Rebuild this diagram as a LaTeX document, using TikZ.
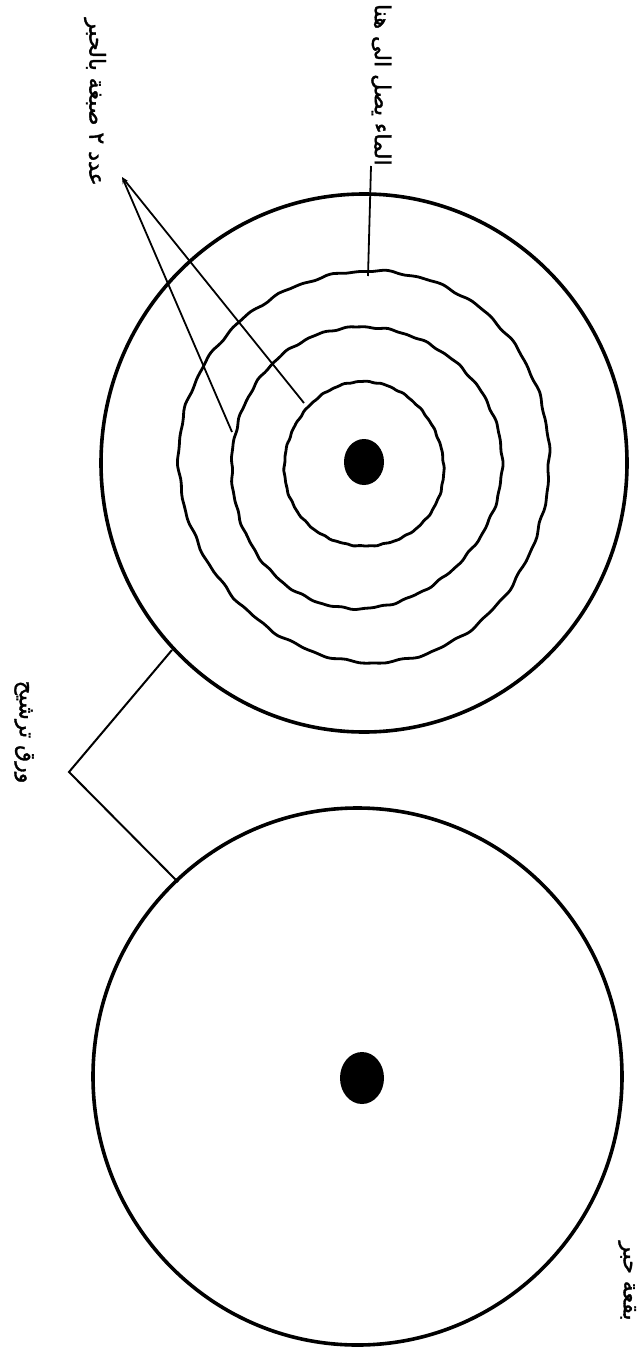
\documentclass[tikz,border=0pt]{standalone}
\usepackage{fontspec}
\usetikzlibrary{arrows.meta}
\newfontfamily\arabicfont[Script=Arabic, FakeBold=1.6]{DejaVu Sans}
\TeXXeTstate=1

\begin{document}
\begin{tikzpicture}[x=0.5pt, y=-0.5pt, >={Stealth[length=3.5pt,width=2.2pt]},
    declare function={wob(\t,\p)=1+0.004*sin(23*\t+\p)+0.003*sin(41*\t+40+\p)+0.015*sin(3*\t+\p)+0.01*sin(2*\t+60+\p);},
    paper/.style={line width=1.8pt},
    ring/.style={line width=1.4pt, line join=round},
    pointer/.style={line width=0.9pt},
    arabiclabel/.style={font=\arabicfont\fontsize{11}{13}\selectfont, rotate=-90, inner sep=0pt}]
    \useasboundingbox (0,0) rectangle (640,1348);

    % Upper filter paper with the dye rings
    \draw[paper] (364,463) ellipse [x radius=263, y radius=269];
    \fill (364,462) ellipse [x radius=20, y radius=23];
    \draw[ring] plot[smooth cycle, domain=0:358, samples=180]
        ({364+79*cos(\x)*wob(\x,0)}, {465+83*sin(\x)*wob(\x,0)});
    \draw[ring] plot[smooth cycle, domain=0:358, samples=180]
        ({365+135*cos(\x)*wob(\x,110)}, {467+141*sin(\x)*wob(\x,110)});
    \draw[ring] plot[smooth cycle, domain=0:358, samples=180]
        ({366+187*cos(\x)*wob(\x,230)}, {465+194*sin(\x)*wob(\x,230)});

    % Lower filter paper with the ink spot
    \draw[paper] (357.5,1076.5) ellipse [x radius=264.5, y radius=268.5];
    \fill (362,1078) ellipse [x radius=22, y radius=26];

    % Labels
    \node[arabiclabel] (dyelabel) at (95,102) {\beginR عدد ٢ صبغة بالحبر\endR};
    \node[arabiclabel, anchor=south east] (waterlabel) at (371,166) {\beginR الماء يصل الى هنا\endR};
    \node[arabiclabel] (paperlabel) at (24,732) {\beginR ورق ترشيح\endR};
    \node[arabiclabel] (inklabel) at (627,1281) {\beginR بقعة حبر\endR};

    % Points on the rings and papers
    \coordinate (dyetip) at (122,177);
    \coordinate (innerpt) at (304,403);
    \coordinate (middlept) at (232,432);
    \coordinate (waterpt) at (368,276);
    \coordinate (toppaper) at (172,650);
    \coordinate (bend) at (69,772);
    \coordinate (botpaper) at (178,882);

    % Pointers
    \draw[pointer, ->] (innerpt) -- (dyetip);
    \draw[pointer, ->] (middlept) -- (dyetip);
    \draw[pointer] (waterlabel.south east) -- (waterpt);
    \draw[pointer, line width=1pt] (toppaper) -- (bend) -- (botpaper);
\end{tikzpicture}
\end{document}
